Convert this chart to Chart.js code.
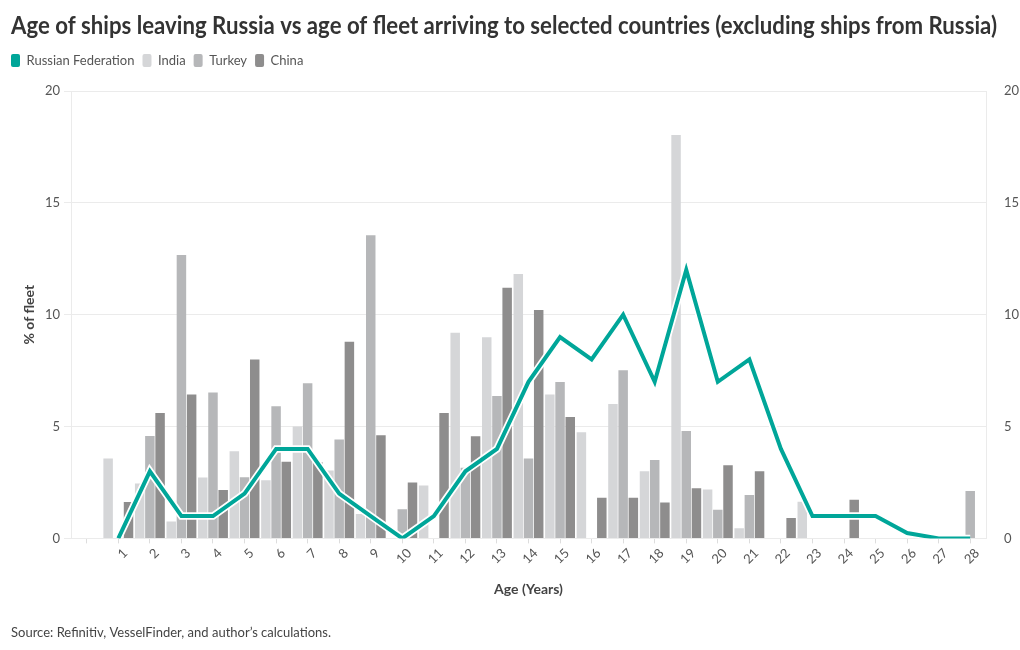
<!DOCTYPE html>
<html>
<head>
<meta charset="utf-8">
<script src="https://cdn.jsdelivr.net/npm/chart.js@4.4.0/dist/chart.umd.min.js"></script>
<style>
  html, body { margin: 0; padding: 0; background: #fff; }
  #wrap { width: 1020px; height: 650px; position: relative; }
</style>
</head>
<body>
<div id="wrap"><canvas id="chart"></canvas></div>
<script>
// age buckets (0 is an empty slot the original leaves at the start)
const ages = ['0', '1', '2', '3', '4', '5', '6', '7', '8', '9', '10', '11', '12', '13', '14',
  '15', '16', '17', '18', '19', '20', '21', '22', '23', '24', '25', '26', '27', '28'];

// % of fleet
const russia = [null, 0, 3, 1, 1, 2, 4, 4, 2, 1, 0, 1, 3, 4, 7, 9, 8, 10, 7, 12, 7, 8, 4, 1, 1, 1, 0.24, 0, 0];
const india  = [null, 3.57, 2.45, 0.76, 2.72, 3.9, 2.6, 5.0, 3.04, 1.09, 0, 2.36, 9.19, 8.99, 11.82, 6.43, 4.75, 6.01, 3.0, 18.03, 2.19, 0.45, 0, 1.64, 0, 0, 0, 0, 0];
const turkey = [null, 0, 4.58, 12.67, 6.52, 2.73, 5.91, 6.94, 4.42, 13.55, 1.3, 0, 3.16, 6.37, 3.57, 6.99, 0, 7.52, 3.51, 4.8, 1.28, 1.94, 0, 0, 0, 0, 0, 0, 2.12];
const china  = [null, 1.63, 5.61, 6.43, 2.16, 8.0, 3.43, 3.4, 8.79, 4.61, 2.5, 5.61, 4.57, 11.21, 10.21, 5.43, 1.82, 1.82, 1.6, 2.24, 3.27, 3.0, 0.91, 0, 1.73, 0, 0, 0, 0];

const yTicks = [0, 5, 10, 15, 20];

const TEAL = '#00a699';
const GRID = '#ebebeb';

Chart.defaults.font.family = 'Lato, "Noto Sans", sans-serif';
Chart.defaults.color = '#555';

// the plot is pushed down to leave room above it; pull title and legend back up,
// squeeze the title into the original's width and line the legend up with it
const headerShift = {
  id: 'headerShift',
  afterLayout(chart) {
    const t = chart.titleBlock, l = chart.legend;
    t.top -= 13; t.bottom -= 13;
    t.right = 997;
    l.top -= 14; l.bottom -= 14;
    l.left -= 8; l.right -= 8;
  }
};

const barCommon = {
  type: 'bar',
  categoryPercentage: 0.97,
  barPercentage: 0.93,
  borderWidth: 0,
  order: 3
};

new Chart(document.getElementById('chart'), {
  data: {
    labels: ages,
    datasets: [
      {
        type: 'line', label: 'Russian Federation', data: russia,
        borderColor: TEAL, backgroundColor: TEAL, borderWidth: 4,
        borderJoinStyle: 'miter', pointRadius: 0, tension: 0, order: 1
      },
      {
        type: 'line', label: '', data: russia,
        borderColor: '#fff', borderWidth: 7.5,
        borderJoinStyle: 'miter', pointRadius: 0, tension: 0, order: 2
      },
      { ...barCommon, label: 'India', data: india, backgroundColor: '#d5d6d8' },
      { ...barCommon, label: 'Turkey', data: turkey, backgroundColor: '#b6b7b9' },
      { ...barCommon, label: 'China', data: china, backgroundColor: '#8e8d8d' }
    ]
  },
  options: {
    responsive: true,
    maintainAspectRatio: false,
    animation: false,
    devicePixelRatio: 1,
    layout: { padding: { left: 11, right: 0, top: 8, bottom: 7 } },
    plugins: {
      title: {
        display: true,
        text: 'Age of ships leaving Russia vs age of fleet arriving to selected countries (excluding ships from Russia)',
        align: 'start',
        color: '#333',
        font: { size: 24, weight: 'bold' },
        padding: { top: 0, bottom: 6 }
      },
      subtitle: {
        display: true,
        position: 'bottom',
        align: 'start',
        text: 'Source: Refinitiv, VesselFinder, and author\u2019s calculations.',
        color: '#444',
        font: { size: 13 },
        padding: { top: 0, bottom: 2 }
      },
      legend: {
        position: 'top',
        align: 'start',
        labels: {
          boxWidth: 9,
          boxHeight: 13,
          useBorderRadius: true,
          borderRadius: 2,
          padding: 8,
          color: '#555',
          font: { size: 13 },
          filter: item => item.text !== '',
          generateLabels(chart) {
            return Chart.defaults.plugins.legend.labels.generateLabels(chart)
              .map(item => ({ ...item, lineWidth: 0 }));
          }
        }
      },
      tooltip: { enabled: false }
    },
    scales: {
      x: {
        type: 'category',
        offset: true,
        grid: { display: true, drawOnChartArea: false, offset: false, tickLength: 5, color: '#ddd' },
        border: { display: false },
        ticks: {
          autoSkip: false,
          minRotation: 45,
          maxRotation: 45,
          labelOffset: 7,
          padding: 2,
          color: '#555',
          font: { size: 13 },
          callback: (v, i) => (i === 0 ? '' : ages[i])
        },
        title: {
          display: true,
          text: 'Age (Years)',
          color: '#444',
          font: { size: 14, weight: 'bold' },
          padding: { top: 4, bottom: 28 }
        },
        afterFit(s) { s.height = 87; }
      },
      y: {
        position: 'left',
        min: 0,
        max: 20,
        afterBuildTicks(s) { s.ticks = yTicks.map(v => ({ value: v })); },
        grid: { color: GRID, tickLength: 7 },
        border: { color: GRID },
        ticks: { padding: 4, color: '#555', font: { size: 13 } },
        title: {
          display: true,
          text: '% of fleet',
          color: '#444',
          font: { size: 14, weight: 'bold' },
          padding: { top: 10 }
        },
        afterFit(s) { s.width = 60; s.paddingTop = 91; }
      },
      y2: {
        position: 'right',
        min: 0,
        max: 20,
        afterBuildTicks(s) { s.ticks = yTicks.map(v => ({ value: v })); },
        grid: { display: false },
        border: { display: true, color: GRID },
        ticks: { padding: 10, color: '#555', font: { size: 13 } },
        afterFit(s) { s.width = 34; }
      }
    }
  },
  plugins: [headerShift]
});
</script>
</body>
</html>
